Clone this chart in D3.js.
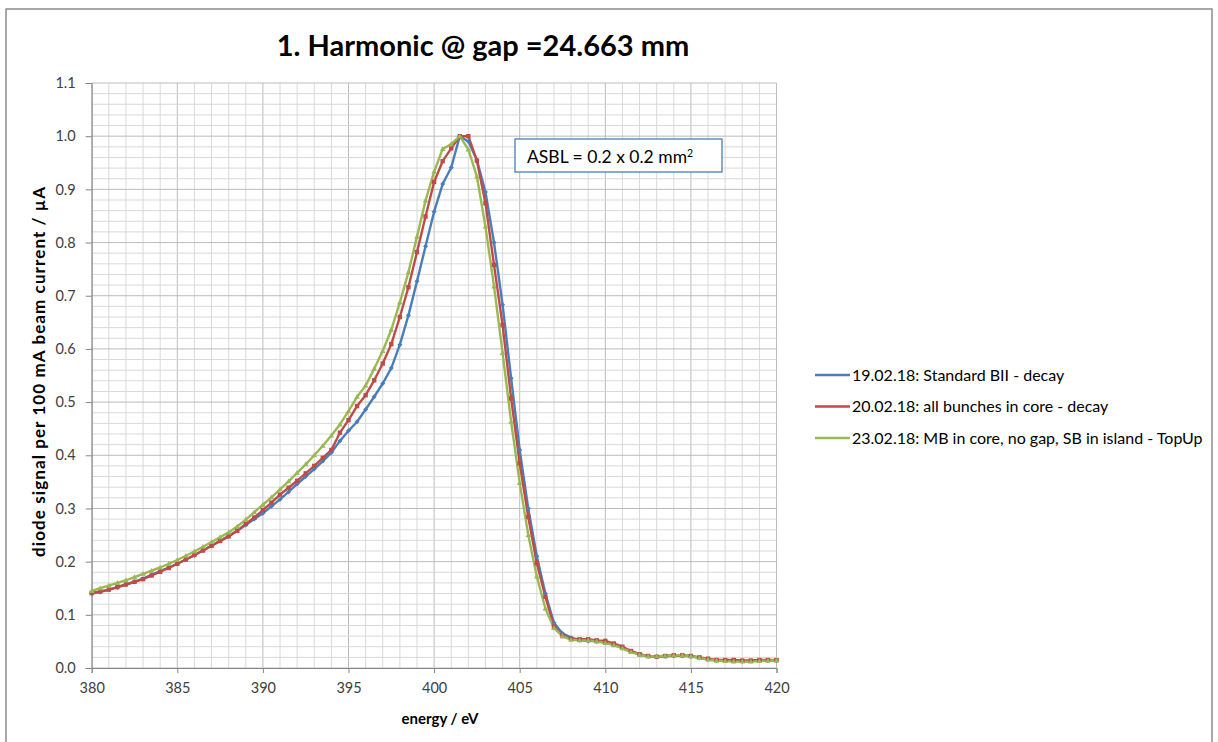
<!DOCTYPE html>
<html><head><meta charset="utf-8">
<script src="https://cdn.jsdelivr.net/npm/d3@7"></script>
<style>
body{margin:0;background:#fff;}
text{font-family:Lato,"Open Sans",sans-serif;}
</style></head>
<body><svg id="c" width="1218" height="742"></svg>
<script>
const energy = d3.range(380, 420.001, 0.5);
const blueVals = [0.140,0.143,0.147,0.152,0.157,0.162,0.168,0.175,0.182,0.189,0.196,0.204,0.212,0.221,0.230,0.239,0.248,0.258,0.269,0.280,0.291,0.304,0.317,0.331,0.346,0.360,0.374,0.389,0.405,0.427,0.446,0.463,0.486,0.510,0.535,0.564,0.608,0.663,0.727,0.793,0.858,0.910,0.941,1.000,0.990,0.955,0.895,0.800,0.683,0.545,0.410,0.300,0.210,0.140,0.085,0.065,0.057,0.052,0.051,0.050,0.048,0.044,0.038,0.031,0.025,0.022,0.022,0.022,0.023,0.023,0.022,0.019,0.016,0.014,0.014,0.013,0.013,0.013,0.014,0.014,0.014];
const redVals = [0.141,0.144,0.1475,0.152,0.157,0.162,0.167,0.174,0.181,0.188,0.196,0.204,0.2125,0.221,0.230,0.239,0.2475,0.258,0.271,0.283,0.297,0.311,0.326,0.339,0.352,0.366,0.380,0.395,0.410,0.4425,0.466,0.4925,0.513,0.541,0.5725,0.609,0.660,0.716,0.782,0.849,0.914,0.953,0.977,1.000,1.000,0.954,0.874,0.758,0.645,0.507,0.385,0.284,0.197,0.134,0.078,0.060,0.055,0.054,0.054,0.052,0.051,0.046,0.040,0.032,0.026,0.0225,0.021,0.0225,0.024,0.024,0.0225,0.020,0.0175,0.015,0.015,0.015,0.014,0.014,0.015,0.015,0.015];
const greenVals = [0.145,0.150,0.155,0.160,0.165,0.171,0.177,0.183,0.189,0.196,0.203,0.211,0.219,0.228,0.237,0.246,0.255,0.266,0.279,0.293,0.307,0.321,0.336,0.351,0.367,0.383,0.400,0.418,0.437,0.458,0.483,0.510,0.531,0.5625,0.596,0.636,0.6875,0.744,0.811,0.879,0.933,0.976,0.985,1.000,0.975,0.924,0.830,0.7175,0.5925,0.463,0.348,0.250,0.172,0.112,0.075,0.060,0.053,0.052,0.052,0.050,0.047,0.043,0.037,0.030,0.025,0.022,0.022,0.023,0.024,0.024,0.022,0.019,0.016,0.014,0.013,0.012,0.012,0.012,0.013,0.014,0.014];
const seriesNames = ["19.02.18: Standard BII - decay","20.02.18: all bunches in core - decay","23.02.18: MB in core, no gap, SB in island - TopUp"];
const seriesColors = ["#4a7ebb","#be4b48","#98b954"];
const xTicks = [380,385,390,395,400,405,410,415,420];
const yTicks = [0,0.1,0.2,0.3,0.4,0.5,0.6,0.7,0.8,0.9,1.0,1.1];
const titleText = "1. Harmonic @ gap =24.663 mm";
const xTitle = "energy / eV";
const yTitle = "diode signal per 100 mA beam current / µA";
const annotation = ["ASBL = 0.2 x 0.2 mm","2"];

const svg = d3.select("#c");
const L=91.7,R=776.5,T=83,B=668;
const x = d3.scaleLinear().domain([380,420]).range([L,R]);
const y = d3.scaleLinear().domain([0,1.1]).range([B,T]);

svg.append("rect").attr("x",6).attr("y",9).attr("width",1206).attr("height",745)
  .attr("fill","#fff").attr("stroke","#8c8c8c").attr("stroke-width",1.5);

// grid
const g = svg.append("g");
d3.range(380,420.001,1).forEach(v=>{
  g.append("line").attr("x1",x(v)).attr("x2",x(v)).attr("y1",T).attr("y2",B)
   .attr("stroke", v%5===0?"#bcbcbc":"#d9d9d9").attr("stroke-width",1);
});
d3.range(0,1.1001,0.02).forEach(v=>{
  const major = Math.abs(v*10-Math.round(v*10))<1e-6;
  g.append("line").attr("x1",L).attr("x2",R).attr("y1",y(v)).attr("y2",y(v))
   .attr("stroke", major?"#bcbcbc":"#d9d9d9").attr("stroke-width",1);
});

// axes
const xAxis = d3.axisBottom(x).tickValues(xTicks).tickSize(5).tickFormat(d3.format("d"));
const gx = svg.append("g").attr("transform",`translate(0,${B})`).call(xAxis);
const yAxis = d3.axisLeft(y).tickValues(yTicks).tickSize(6).tickFormat(d3.format(".1f"));
const gy = svg.append("g").attr("transform",`translate(${L},0)`).call(yAxis);
[gx,gy].forEach(a=>{
  a.select(".domain").attr("stroke","#868686").attr("stroke-width",1);
  a.selectAll(".tick line").attr("stroke","#868686");
  a.selectAll(".tick text").attr("fill","#404040").style("font-size","14.5px").style("font-family","Lato,sans-serif");
});
gx.selectAll(".tick text").attr("dy","1.15em");
gy.selectAll(".tick text").attr("x",-16);

// series
const data = [blueVals,redVals,greenVals];
const line = d3.line().x((d,i)=>x(energy[i])).y(d=>y(d));
data.forEach((vals,si)=>{
  svg.append("path").datum(vals).attr("d",line).attr("fill","none")
    .attr("stroke",seriesColors[si]).attr("stroke-width",2.4).attr("stroke-linejoin","round");
});
data.forEach((vals,si)=>{
  const gm = svg.append("g").attr("fill",seriesColors[si]);
  vals.forEach((v,i)=>{
    const cx=x(energy[i]), cy=y(v);
    if(si===0){
      gm.append("path").attr("d",`M${cx-2.5},${cy}L${cx},${cy-2.5}L${cx+2.5},${cy}L${cx},${cy+2.5}Z`);
    } else if(si===1){
      gm.append("rect").attr("x",cx-2.2).attr("y",cy-2.2).attr("width",4.4).attr("height",4.4);
    } else {
      gm.append("path").attr("d",`M${cx-2.8},${cy+2}L${cx+2.8},${cy+2}L${cx},${cy-2.8}Z`);
    }
  });
});

// titles
svg.append("text").attr("x",483).attr("y",56).attr("text-anchor","middle")
  .style("font-size","29px").style("font-weight","bold").attr("fill","#000").text(titleText);
svg.append("text").attr("x",440).attr("y",724).attr("text-anchor","middle")
  .style("font-size","15px").style("font-weight","bold").attr("fill","#000").text(xTitle);
svg.append("text").attr("transform",`translate(45,372) rotate(-90)`).attr("text-anchor","middle")
  .attr("textLength",370).attr("lengthAdjust","spacing")
  .style("font-size","17px").style("font-weight","bold").attr("fill","#000").text(yTitle);

// annotation box
svg.append("rect").attr("x",515).attr("y",139).attr("width",207).attr("height",33)
  .attr("fill","#fff").attr("stroke","#4a7ebb").attr("stroke-width",1.3);
const at = svg.append("text").attr("x",527).attr("y",163).style("font-size","17.5px").attr("fill","#000");
at.append("tspan").text(annotation[0]);
at.append("tspan").attr("dy",-6).style("font-size","10.5px").text(annotation[1]);

// legend
seriesNames.forEach((n,i)=>{
  const ly = 375 + i*31.5;
  svg.append("line").attr("x1",815).attr("x2",850).attr("y1",ly).attr("y2",ly)
    .attr("stroke",seriesColors[i]).attr("stroke-width",2.4);
  svg.append("text").attr("x",852).attr("y",ly+5.5).style("font-size","16px").attr("fill","#000").text(n);
});
</script></body></html>
